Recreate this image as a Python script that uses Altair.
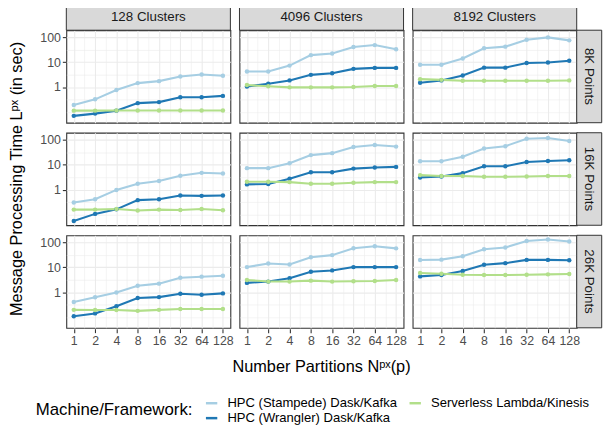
import altair as alt
import pandas as pd
import math

partitions = [1, 2, 4, 8, 16, 32, 64, 128]
clusters = ["128 Clusters", "4096 Clusters", "8192 Clusters"]
points_rows = ["8K Points", "16K Points", "26K Points"]
frameworks = ["HPC (Stampede) Dask/Kafka", "HPC (Wrangler) Dask/Kafka", "Serverless Lambda/Kinesis"]
colors = ["#A6CEE3", "#1F78B4", "#B2DF8A"]
y_title = "Message Processing Time Lᵖˣ (in sec)"
x_title = "Number Partitions Nᵖˣ(p)"
legend_title = "Machine/Framework:"

stampede = {
    ("128 Clusters", "8K Points"): [0.19, 0.32, 0.76, 1.44, 1.73, 2.66, 3.19, 2.83],
    ("4096 Clusters", "8K Points"): [4.2, 4.2, 7.3, 19.3, 22.4, 41, 49, 33.4],
    ("8192 Clusters", "8K Points"): [7.9, 7.9, 14.2, 36.6, 42.4, 80, 100, 76],
    ("128 Clusters", "16K Points"): [0.30, 0.41, 0.97, 1.73, 2.21, 3.6, 4.73, 4.44],
    ("4096 Clusters", "16K Points"): [7.3, 7.3, 11.5, 24.5, 29.4, 52, 63, 54],
    ("8192 Clusters", "16K Points"): [13.8, 13.8, 21, 45, 56, 112, 119, 90],
    ("128 Clusters", "26K Points"): [0.40, 0.62, 0.97, 1.8, 2.2, 3.8, 4.2, 4.6],
    ("4096 Clusters", "26K Points"): [10.2, 14.2, 12.9, 25.4, 31, 59, 71, 58],
    ("8192 Clusters", "26K Points"): [19.8, 20.4, 27.8, 53, 63, 115, 132, 110],
}
wrangler = {
    ("128 Clusters", "8K Points"): [0.069, 0.085, 0.112, 0.225, 0.247, 0.39, 0.39, 0.44],
    ("4096 Clusters", "8K Points"): [1.05, 1.36, 1.85, 3.1, 3.6, 5.4, 5.9, 5.9],
    ("8192 Clusters", "8K Points"): [1.5, 1.85, 2.9, 6.05, 6.05, 9.3, 9.8, 11.5],
    ("128 Clusters", "16K Points"): [0.054, 0.105, 0.16, 0.376, 0.41, 0.58, 0.56, 0.58],
    ("4096 Clusters", "16K Points"): [1.62, 1.68, 2.73, 5.0, 5.0, 7.0, 7.7, 8.2],
    ("8192 Clusters", "16K Points"): [3.08, 3.37, 4.6, 8.7, 8.7, 12.9, 14.2, 15.1],
    ("128 Clusters", "26K Points"): [0.106, 0.139, 0.27, 0.58, 0.63, 0.86, 0.79, 0.89],
    ("4096 Clusters", "26K Points"): [2.36, 2.66, 3.6, 6.6, 7.5, 10.2, 10.2, 10.2],
    ("8192 Clusters", "26K Points"): [4.3, 4.9, 7.1, 12.6, 14.7, 19.9, 19.9, 19.3],
}
serverless = {
    ("128 Clusters", "8K Points"): [0.112, 0.112, 0.113, 0.114, 0.113, 0.113, 0.113, 0.113],
    ("4096 Clusters", "8K Points"): [1.2, 1.07, 0.97, 0.97, 0.97, 1.0, 1.1, 1.1],
    ("8192 Clusters", "8K Points"): [2.08, 1.95, 1.8, 1.8, 1.8, 1.8, 1.8, 1.85],
    ("128 Clusters", "16K Points"): [0.156, 0.156, 0.165, 0.143, 0.156, 0.151, 0.165, 0.147],
    ("4096 Clusters", "16K Points"): [2.08, 2.08, 2.0, 1.73, 1.73, 1.9, 2.0, 2.0],
    ("8192 Clusters", "16K Points"): [3.83, 3.5, 3.5, 3.28, 3.28, 3.37, 3.5, 3.5],
    ("128 Clusters", "26K Points"): [0.193, 0.19, 0.19, 0.176, 0.193, 0.21, 0.21, 0.21],
    ("4096 Clusters", "26K Points"): [3.1, 2.66, 2.66, 2.9, 2.66, 2.73, 2.8, 3.1],
    ("8192 Clusters", "26K Points"): [5.9, 5.5, 5.0, 4.9, 4.9, 5.0, 5.2, 5.4],
}

x_major = [1, 2, 4, 8, 16, 32, 64, 128]
x_minor = [1.414, 2.828, 5.657, 11.31, 22.63, 45.25, 90.51]
y_major = [1, 10, 100]
y_minor = [0.1, 0.3162, 3.162, 31.62]

rows = []
for fw, table in zip(frameworks, [stampede, wrangler, serverless]):
    for (cl, pt), vals in table.items():
        for p, v in zip(partitions, vals):
            rows.append({"kind": "data", "Clusters": cl, "Points": pt,
                         "Partitions": p, "Time": v, "Framework": fw, "label": ""})
for cl in clusters:
    rows.append({"kind": "top", "Clusters": cl, "Points": points_rows[0], "label": cl})
for pt in points_rows:
    rows.append({"kind": "right", "Clusters": clusters[-1], "Points": pt, "label": pt})
rows.append({"kind": "ytitle", "Clusters": clusters[0], "Points": points_rows[1], "label": y_title})
rows.append({"kind": "xtitle", "Clusters": clusters[1], "Points": points_rows[2], "label": x_title})
df = pd.DataFrame(rows)

lx = [math.log2(p) for p in partitions]
ex = 0.05 * (max(lx) - min(lx))
x_dom = [2 ** (min(lx) - ex), 2 ** (max(lx) + ex)]
all_t = [v for t in (stampede, wrangler, serverless) for vs in t.values() for v in vs]
ly = [math.log10(v) for v in all_t]
ey = 0.05 * (max(ly) - min(ly))
y_dom = [10 ** (min(ly) - ey), 10 ** (max(ly) + ey)]

W, H = 166, 93.6
STRIP_H, STRIP_W = 26.7, 25.3
FONT = "Liberation Sans"

x_test_minor = "datum.value % 1 != 0"
y_test_minor = "indexof([1, 10, 100], datum.value) < 0"

xaxis = alt.Axis(
    values=x_major + x_minor, title=None,
    labelExpr="datum.value % 1 == 0 ? format(datum.value, 'd') : ''",
    gridColor="#EBEBEB",
    gridWidth={"condition": {"test": x_test_minor, "value": 0.55}, "value": 1.1},
    tickOpacity={"condition": {"test": x_test_minor, "value": 0}, "value": 1},
    tickColor="#333333", tickSize=4, tickWidth=1.1,
    labelFontSize=12.5, labelColor="#4D4D4D", labelPadding=2,
    domain=False, labelOverlap=False, labelFlush=False, labelFont=FONT,
)
yaxis = alt.Axis(
    values=y_major + y_minor, title=None,
    labelExpr="indexof([1, 10, 100], datum.value) >= 0 ? format(datum.value, 'd') : ''",
    gridColor="#EBEBEB",
    gridWidth={"condition": {"test": y_test_minor, "value": 0.55}, "value": 1.1},
    tickOpacity={"condition": {"test": y_test_minor, "value": 0}, "value": 1},
    tickColor="#333333", tickSize=4, tickWidth=1.1,
    labelFontSize=12.5, labelColor="#4D4D4D", labelPadding=2,
    domain=False, labelOverlap=False, labelFlush=False, labelFont=FONT,
)

legend_order = [frameworks[0], frameworks[2], frameworks[1]]
legend_colors = [colors[0], colors[2], colors[1]]

lines = alt.Chart().transform_filter("datum.kind == 'data'").mark_line(
    strokeWidth=2.1, point=alt.OverlayMarkDef(filled=True, size=20, opacity=1)
).encode(
    x=alt.X("Partitions:Q", scale=alt.Scale(type="log", base=2, domain=x_dom, nice=False), axis=xaxis),
    y=alt.Y("Time:Q", scale=alt.Scale(type="log", domain=y_dom, nice=False), axis=yaxis),
    color=alt.Color(
        "Framework:N",
        scale=alt.Scale(domain=legend_order, range=legend_colors),
        legend=alt.Legend(
            title=legend_title, orient="none", legendX=-31, legendY=370,
            direction="horizontal", columns=2, titleOrient="left", titleAnchor="middle",
            symbolType="stroke", symbolStrokeWidth=2.5, symbolSize=132,
            labelFontSize=13.2, titleFontSize=17, titleFontWeight="normal",
            labelColor="black", titleColor="black", labelFont=FONT, titleFont=FONT,
            columnPadding=7, rowPadding=1.5, labelOffset=9, titlePadding=12,
            labelLimit=400, titleLimit=400,
        ),
    ),
)

top_rect = alt.Chart().transform_filter("datum.kind == 'top'").mark_rect(
    fill="#D9D9D9", stroke="#333333", strokeWidth=1
).encode(x=alt.value(0), x2=alt.value(W), y=alt.value(-STRIP_H), y2=alt.value(0))
top_text = alt.Chart().transform_filter("datum.kind == 'top'").mark_text(
    fontSize=13.5, color="#1A1A1A", font=FONT, baseline="middle", align="center"
).encode(x=alt.value(W / 2), y=alt.value(-STRIP_H / 2), text="label:N")
right_rect = alt.Chart().transform_filter("datum.kind == 'right'").mark_rect(
    fill="#D9D9D9", stroke="#333333", strokeWidth=1
).encode(x=alt.value(W), x2=alt.value(W + STRIP_W), y=alt.value(0), y2=alt.value(H))
right_text = alt.Chart().transform_filter("datum.kind == 'right'").mark_text(
    fontSize=13.5, color="#1A1A1A", font=FONT, baseline="middle", align="center", angle=90
).encode(x=alt.value(W + STRIP_W / 2), y=alt.value(H / 2), text="label:N")
ytitle_text = alt.Chart().transform_filter("datum.kind == 'ytitle'").mark_text(
    fontSize=16.5, color="black", font=FONT, baseline="middle", align="center", angle=270
).encode(x=alt.value(-49.5), y=alt.value(H / 2), text="label:N")
xtitle_text = alt.Chart().transform_filter("datum.kind == 'xtitle'").mark_text(
    fontSize=16.5, color="black", font=FONT, baseline="alphabetic", align="center"
).encode(x=alt.value(W / 2), y=alt.value(138.8), text="label:N")

layered = alt.layer(lines, top_rect, top_text, right_rect, right_text,
                    ytitle_text, xtitle_text, data=df).properties(width=W, height=H)

chart = layered.facet(
    row=alt.Row("Points:N", sort=points_rows, header=None),
    column=alt.Column("Clusters:N", sort=clusters, header=None),
    spacing={"row": 9.75, "column": 9.2},
    bounds="flush",
).properties(
    padding={"left": 0, "top": -8, "right": 0, "bottom": 0}, background="white"
).configure(font=FONT).configure_view(stroke="#333333", strokeWidth=1.1)

chart.save("out.html", embed_options={"renderer": "svg", "actions": False})
